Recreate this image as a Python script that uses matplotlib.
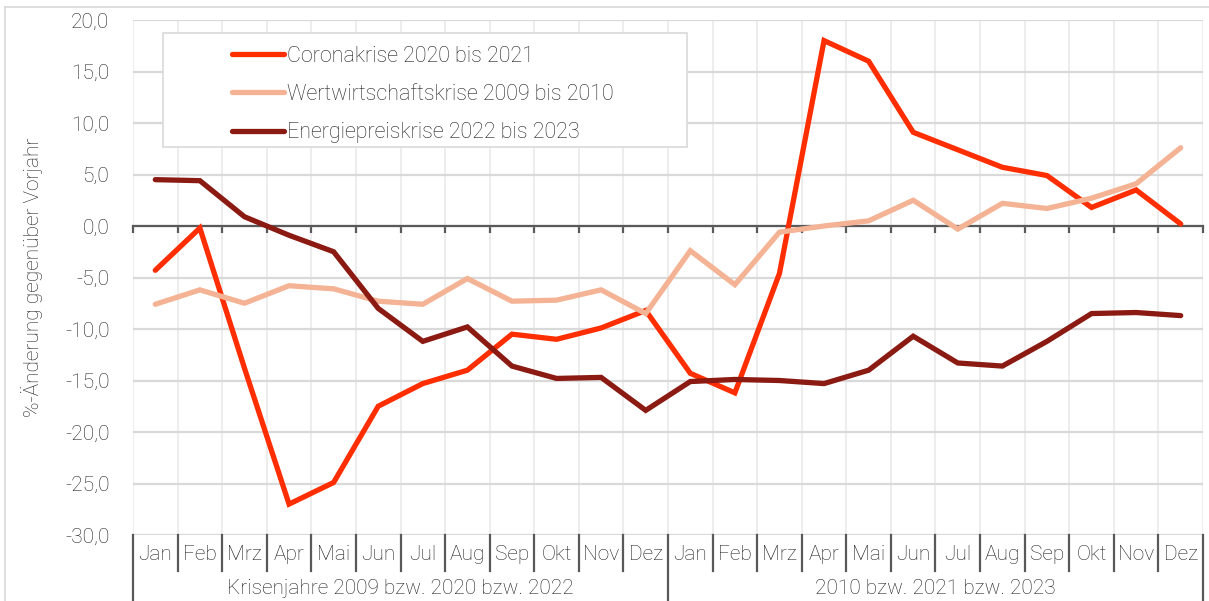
import numpy as np
import matplotlib
matplotlib.use("Agg")
import matplotlib.pyplot as plt
from matplotlib.ticker import FuncFormatter, FixedLocator, NullLocator
from matplotlib.patches import Rectangle
from matplotlib.lines import Line2D

plt.rcParams['font.family'] = ['Roboto', 'DejaVu Sans']
plt.rcParams['font.weight'] = 'light'

months = ['Jan', 'Feb', 'Mrz', 'Apr', 'Mai', 'Jun', 'Jul', 'Aug', 'Sep', 'Okt', 'Nov', 'Dez']
years = ['Krisenjahre 2009 bzw. 2020 bzw. 2022', '2010 bzw. 2021 bzw. 2023']

corona = [-4.3, -0.2, -13.8, -27.0, -24.9, -17.5, -15.3, -14.0, -10.5, -11.0, -9.9, -8.2,
          -14.3, -16.2, -4.6, 18.0, 16.0, 9.1, 7.4, 5.7, 4.9, 1.8, 3.5, 0.2]
weltwirtschaft = [-7.6, -6.2, -7.5, -5.8, -6.1, -7.3, -7.6, -5.1, -7.3, -7.2, -6.2, -8.5,
                  -2.4, -5.7, -0.6, 0.0, 0.5, 2.5, -0.3, 2.2, 1.7, 2.7, 4.1, 7.6]
energie = [4.5, 4.4, 0.9, -0.9, -2.5, -8.0, -11.2, -9.8, -13.6, -14.8, -14.7, -17.9,
           -15.1, -14.9, -15.0, -15.3, -14.0, -10.7, -13.3, -13.6, -11.2, -8.5, -8.4, -8.7]

series = [
    ('Coronakrise 2020 bis 2021', corona, '#FF2E00'),
    ('Wertwirtschaftskrise 2009 bis 2010', weltwirtschaft, '#F4B394'),
    ('Energiepreiskrise 2022 bis 2023', energie, '#8B1A12'),
]

FS = 15

fig = plt.figure(figsize=(12.09, 6.01), dpi=100)
ax = fig.add_axes([133 / 1209, 1 - 535 / 601, (1203 - 133) / 1209, (535 - 20) / 601])

labels = months * 2
x = np.arange(len(labels))

for name, vals, col in series:
    ax.plot(x, vals, color=col, lw=3.8, solid_capstyle='round', solid_joinstyle='miter', label=name, zorder=3)

ax.set_xlim(-0.5, len(labels) - 0.5)
ax.set_ylim(-30, 20)
ax.set_yticks(np.arange(-30, 21, 5))
ax.yaxis.set_major_formatter(FuncFormatter(lambda v, p: f'{v:.1f}'.replace('.', ',')))
ax.tick_params(axis='y', length=0, pad=17, labelsize=FS, labelcolor='#222222')
ax.grid(axis='y', color='#D9D9D9', lw=1.6, zorder=0)

bounds = np.arange(-0.5, len(labels), 1.0)
ax.xaxis.set_major_locator(NullLocator())
ax.xaxis.set_minor_locator(FixedLocator(bounds))
ax.grid(axis='x', which='minor', color='#E8E8E8', lw=1.1, zorder=0)
ax.tick_params(axis='x', which='minor', length=5, width=1.6, color='#595959', labelbottom=False)

for s in ['top', 'right', 'left']:
    ax.spines[s].set_visible(False)
ax.spines['bottom'].set_position(('data', 0))
ax.spines['bottom'].set_color('#595959')
ax.spines['bottom'].set_linewidth(1.6)
ax.spines['bottom'].set_zorder(2)

ax.set_ylabel('%-Änderung gegenüber Vorjahr', fontsize=FS, color='#222222', fontweight='light')
ax.yaxis.set_label_coords(-90 / 1070, 0.5)

# category table below the plot
tr = ax.get_xaxis_transform()
h = 515.0
for i, m in enumerate(labels):
    ax.text(i, -19 / h, m, transform=tr, ha='center', va='center', fontsize=FS, color='#222222')
for b in bounds:
    long_sep = abs((b + 0.5) % 12) < 1e-9
    y_end = -66 / h if long_sep else -36 / h
    ax.add_line(Line2D([b, b], [0, y_end], transform=tr, color='#595959', lw=1.6, clip_on=False))
for j, yl in enumerate(years):
    ax.text(j * 12 + 5.5, -54 / h, yl, transform=tr, ha='center', va='center', fontsize=FS, color='#222222')

# legend
leg_box = Rectangle((163 / 1209, 1 - 147 / 601), (687 - 163) / 1209, (147 - 33) / 601,
                    transform=fig.transFigure, facecolor='white', edgecolor='#D9D9D9', lw=1.2,
                    zorder=4, clip_on=False)
ax.add_patch(leg_box)
leg = ax.legend(loc='upper left', bbox_to_anchor=(223 / 1209, 1 - 37 / 601), bbox_transform=fig.transFigure,
                frameon=False, fontsize=15.5, handlelength=2.45, handletextpad=0.12, labelspacing=0.8,
                borderaxespad=0)
leg.set_zorder(5)
for t in leg.get_texts():
    t.set_color('#222222')

# figure border
fig.add_artist(Line2D([5 / 1209, 5 / 1209], [0, 1 - 7 / 601], transform=fig.transFigure, color='#D9D9D9', lw=1.2))
fig.add_artist(Line2D([5 / 1209, 1], [1 - 7 / 601, 1 - 7 / 601], transform=fig.transFigure, color='#D9D9D9', lw=1.2))

fig.savefig('out.png', dpi=100)
